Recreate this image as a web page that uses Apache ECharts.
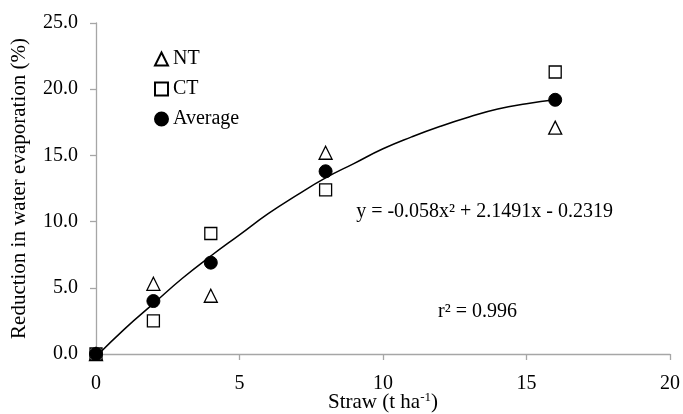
<!DOCTYPE html>
<html>
<head>
<meta charset="utf-8">
<script src="https://cdn.jsdelivr.net/npm/echarts@6/dist/echarts.min.js"></script>
<style>html,body{margin:0;padding:0;background:#fff}#c{width:683px;height:414px}</style>
</head>
<body>
<div id="c"></div>
<script>
const strawLevels = [0, 2, 4, 8, 16];
const ntValues = [0, 5.3, 4.4, 15.2, 17.1];
const ctValues = [0, 2.5, 9.1, 12.4, 21.3];
const avgValues = [0, 4.0, 6.9, 13.8, 19.2];
// trend curve points
const curveX = [0, 1, 2, 3, 4, 5, 6, 7, 8, 9, 10, 11, 12, 13, 14, 15, 16];
const curveY = [-0.2, 1.9, 3.8, 5.7, 7.4, 9.0, 10.6, 12.0, 13.3, 14.4, 15.5, 16.4, 17.2, 17.9, 18.5, 18.9, 19.2];
const xTicks = [0, 5, 10, 15, 20];
const yTicks = [0, 5, 10, 15, 20, 25];
const equationText = 'y = -0.058x² + 2.1491x - 0.2319';
const r2Text = 'r² = 0.996';

const FONT = "'Liberation Serif','Times New Roman',serif";
const FS = 20;
const TFS = 21;
const pair = (xs, ys) => xs.map((x, i) => [x, ys[i]]);

const chart = echarts.init(document.getElementById('c'), null, {renderer: 'canvas'});
chart.setOption({
  animation: false,
  backgroundColor: '#fff',
  textStyle: {fontFamily: FONT, color: '#000'},
  grid: {left: 96, right: 13, top: 23, bottom: 60, containLabel: false, outerBoundsMode: 'none'},
  legend: {
    orient: 'vertical', left: 149, top: 44, itemWidth: 13, itemHeight: 13, itemGap: 10,
    data: ['NT', 'CT', 'Average'],
    textStyle: {fontFamily: FONT, fontSize: FS, color: '#000'}
  },
  xAxis: {
    type: 'value', min: xTicks[0], max: xTicks[xTicks.length - 1], interval: 5,
    name: 'Straw (t ha{s|-1})', nameLocation: 'middle', nameGap: 37, nameMoveOverlap: false,
    nameTextStyle: {fontFamily: FONT, fontSize: TFS, color: '#000',
      rich: {s: {fontFamily: FONT, fontSize: 13, color: '#000', padding: [0, 0, 9, 0]}}},
    axisLine: {show: true, lineStyle: {color: '#a6a6a6', width: 1.3}},
    axisTick: {show: true, inside: false, length: 6, lineStyle: {color: '#a6a6a6', width: 1.3}},
    axisLabel: {fontFamily: FONT, fontSize: FS, color: '#000', margin: 20},
    splitLine: {show: false}
  },
  yAxis: {
    type: 'value', min: yTicks[0], max: yTicks[yTicks.length - 1], interval: 5,
    name: 'Reduction in water evaporation (%)', nameLocation: 'middle', nameGap: 66, nameMoveOverlap: false,
    nameTextStyle: {fontFamily: FONT, fontSize: TFS, color: '#000'},
    axisLine: {show: true, lineStyle: {color: '#a6a6a6', width: 1.3}},
    axisTick: {show: true, inside: false, length: 6, lineStyle: {color: '#a6a6a6', width: 1.3}},
    axisLabel: {fontFamily: FONT, fontSize: FS, color: '#000', margin: 18,
      formatter: v => v.toFixed(1)},
    splitLine: {show: false}
  },
  series: [
    {
      name: 'fit', type: 'line', data: pair(curveX, curveY), smooth: true,
      showSymbol: false, symbol: 'none', lineStyle: {color: '#000', width: 1.5}, z: 1,
      silent: true
    },
    {
      name: 'NT', type: 'scatter', data: pair(strawLevels, ntValues), symbol: 'triangle', symbolSize: 13,
      itemStyle: {color: '#fff', borderColor: '#000', borderWidth: 1.3, opacity: 1}, z: 3
    },
    {
      name: 'CT', type: 'scatter', data: pair(strawLevels, ctValues), symbol: 'rect', symbolSize: 12,
      itemStyle: {color: '#fff', borderColor: '#000', borderWidth: 1.3, opacity: 1}, z: 3
    },
    {
      name: 'Average', type: 'scatter', data: pair(strawLevels, avgValues), symbol: 'circle', symbolSize: 13,
      itemStyle: {color: '#000', borderColor: '#000', borderWidth: 1, opacity: 1}, z: 4
    }
  ],
  graphic: [
    {type: 'text', right: 70, top: 202, style: {text: equationText, font: FS + 'px ' + FONT, fill: '#000'}},
    {type: 'text', left: 438, top: 302, style: {text: r2Text, font: FS + 'px ' + FONT, fill: '#000'}}
  ]
});
</script>
</body>
</html>
